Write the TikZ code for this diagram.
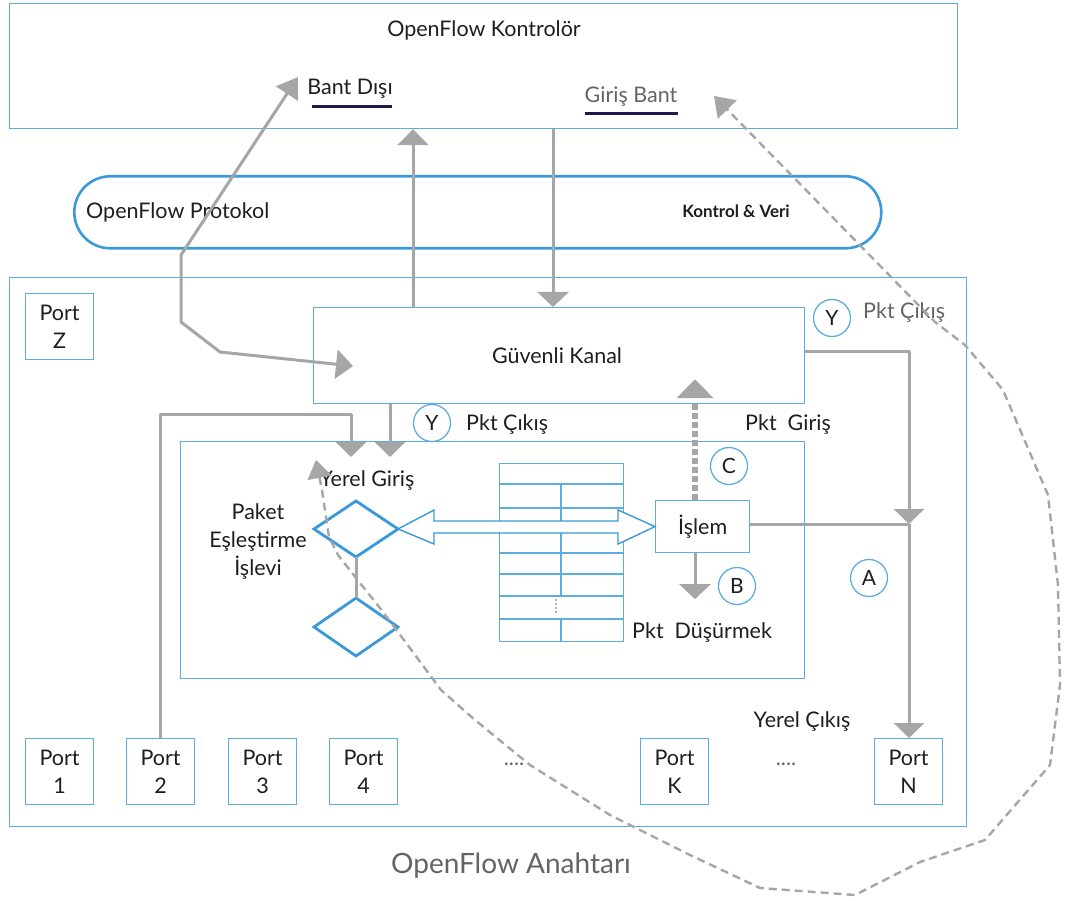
\documentclass[tikz,border=0pt]{standalone}
\usepackage{fontspec}
\setmainfont{Lato}
\usetikzlibrary{arrows.meta}
\definecolor{boxblue}{RGB}{93,173,226}
\definecolor{lineblue}{RGB}{58,154,217}
\definecolor{flowgrey}{RGB}{166,166,166}
\definecolor{inkdark}{RGB}{30,30,30}
\definecolor{inkgrey}{RGB}{100,100,100}
\definecolor{navyline}{RGB}{27,27,78}

\begin{document}
\begin{tikzpicture}[x=1pt,y=-1pt,
  font=\fontsize{21.5}{26}\selectfont, text=inkdark,
  box/.style={draw=boxblue, line width=1.2pt, inner sep=0pt, anchor=north west, align=center},
  portbox/.style={box, minimum width=68pt, minimum height=66pt, font=\fontsize{21.5}{28}\selectfont},
  badge/.style={circle, draw=boxblue, line width=1.3pt, minimum size=37pt, inner sep=0pt, font=\fontsize{21}{21}\selectfont},
  diam/.style={draw=lineblue, line width=2.8pt, line join=miter},
  flow/.style={draw=flowgrey, line width=3pt, line join=round},
  headdown/.style={-{Triangle[length=15pt,width=30pt]}},
  loopline/.style={draw=flowgrey, line width=2.4pt, dash pattern=on 8pt off 5pt, line join=round},
  lbl/.style={inner sep=0pt},
]
\useasboundingbox (0,0) rectangle (1079,901);

% ---------- controller ----------
\node[box, minimum width=948pt, minimum height=125pt] (ctrl) at (9,3) {};
\node[lbl] (ctrltitle) at (484,30) {OpenFlow Kontrolör};
\node[lbl] (oob) at (350,89) {Bant Dışı};
\draw[navyline, line width=3pt] (312,107) -- (392,107);
\node[lbl, text=inkgrey] (inb) at (631,97) {Giriş Bant};
\draw[navyline, line width=3pt] (585,114) -- (678,114);

% ---------- protocol ----------
\node[draw=lineblue, line width=2.6pt, rounded corners=36pt, minimum width=807pt,
      minimum height=72pt, anchor=north west, inner sep=0pt] (proto) at (73,175) {};
\node[lbl, anchor=west] (protoname) at (86,212) {OpenFlow Protokol};
\node[lbl, font=\fontsize{17}{20}\selectfont\bfseries] (protokind) at (736,211) {Kontrol \& Veri};

% ---------- switch ----------
\node[box, minimum width=957pt, minimum height=549pt] (sw) at (9,277) {};
\node[lbl, text=inkgrey, font=\fontsize{28}{32}\selectfont] (swname) at (511,866) {OpenFlow Anahtarı};

\node[portbox] (portZ) at (25,293) {Port\\Z};
\node[portbox] (port1) at (25,738) {Port\\1};
\node[portbox] (port2) at (126,738) {Port\\2};
\node[portbox] (port3) at (228,738) {Port\\3};
\node[portbox] (port4) at (329,738) {Port\\4};
\node[portbox] (portK) at (640,738) {Port\\K};
\node[portbox] (portN) at (874,738) {Port\\N};
\node[lbl, text=inkgrey] (dotsA) at (514,764) {....};
\node[lbl, text=inkgrey] (dotsB) at (786,764) {....};
\node[lbl] (localout) at (802,721) {Yerel Çıkış};

% secure channel
\node[box, minimum width=491pt, minimum height=96pt] (gk) at (313,307) {};
\node[lbl] (gkname) at (557,356) {Güvenli Kanal};
\node[badge] (y1) at (832,318) {Y};
\node[lbl, anchor=west, text=inkgrey] (pktout1) at (863,313) {Pkt Çıkış};
\node[badge] (y2) at (432,423) {Y};
\node[lbl, anchor=west] (pktout2) at (466,424) {Pkt Çıkış};
\node[lbl, anchor=west] (pktin) at (745,424) {Pkt\ \ Giriş};

% flow table area
\node[box, minimum width=624pt, minimum height=237pt] (inner) at (180,441) {};
\node[lbl] (localin) at (367,480) {Yerel Giriş};
\node[lbl, align=center, font=\fontsize{21.5}{28}\selectfont] (match) at (258,541) {Paket\\Eşleştirme\\İşlevi};
\node[lbl, anchor=west] (pktdrop) at (632,632) {Pkt\ \ Düşürmek};

% flow table
\node[box, minimum width=124pt, minimum height=178pt] (tbl) at (499,463) {};
\foreach \yy in {484,508,532,553,574,596,619}
  \draw[boxblue, line width=1.2pt] (tbl.west |- 0,\yy) -- (tbl.east |- 0,\yy);
\draw[boxblue, line width=1.2pt] (561,484) -- (561,596) (561,619) -- (561,641);
\foreach \yy in {600,604,608,612}
  \fill[inkgrey] (556,\yy) circle (0.8pt);

% decision diamonds
\draw[diam] (314,529) coordinate (d1w) -- (356,501) -- (398,529) coordinate (d1e) -- (356,557) coordinate (d1s) -- cycle;
\draw[diam] (314,627) -- (356,598) coordinate (d2n) -- (398,627) -- (356,656) -- cycle;
\draw[flow] (d1s) -- (d2n);

% action box
\node[box, minimum width=94pt, minimum height=52pt] (islem) at (655,500) {İşlem};

% hollow double arrow between matching and action
\draw[draw=lineblue, line width=1.4pt, fill=white, line join=miter]
  (d1e) -- (434,510) -- (434,521) -- (618,521) -- (618,510) -- (islem.west)
  -- (618,544) -- (618,533) -- (434,533) -- (434,544) -- cycle;

\node[badge] (bc) at (729,466) {C};
\node[badge] (bb) at (737,586) {B};
\node[badge] (ba) at (869,578) {A};

% ---------- solid connectors ----------
\coordinate (upx) at (413,0);
\coordinate (downx) at (553,0);
\draw[flow, -{Triangle[length=16pt,width=31pt]}] (gk.north -| upx) -- (ctrl.south -| upx);
\draw[flow, -{Triangle[length=15pt,width=31pt]}] (ctrl.south -| downx) -- (gk.north -| downx);

\coordinate (oobtip) at (298,77);
\coordinate (gkin) at (353,366);
\draw[flow, {Triangle[length=20pt,width=26pt]}-{Triangle[length=17pt,width=29pt]}]
  (oobtip) -- (181,255) -- (181,322) -- (220,352) -- (gkin);

\coordinate (lin1) at (351,457);
\coordinate (lin2) at (390,457);
\draw[flow, headdown] (port2.north) -- (port2.north |- 0,414) -- (lin1 |- 0,414) -- (lin1);
\draw[flow, headdown] (gk.south -| lin2) -- (lin2);

\coordinate (gkout) at (804,351);
\coordinate (jn) at (909,524);
\draw[flow, headdown] (gkout) -- (gkout -| jn) -- (jn);
\draw[flow] (islem.east |- jn) -- (jn);
\draw[flow, headdown] (jn) -- (jn |- portN.north);

\coordinate (actx) at (695,0);
\draw[draw=flowgrey, line width=5.5pt, dash pattern=on 6pt off 3pt, -{Triangle[length=19pt,width=36pt]}]
  (islem.north -| actx) -- (gk.south -| actx) ++(0,-25) coordinate (actup);
\draw[flow, -{Triangle[length=15pt,width=31pt]}] (islem.south -| actx) -- ++(0,46) coordinate (actdown);

% ---------- dashed loop ----------
\coordinate (looptipA) at (316,460);
\coordinate (looptipB) at (714,96);
\draw[loopline, {Triangle[length=18pt,width=24pt]}-{Triangle[length=19pt,width=26pt]}]
  (looptipA) -- (322,490) -- (329,537) -- (338,555) -- (356,578) -- (380,608) -- (398,632)
  -- (441,690) -- (475,720) -- (530,765) -- (610,815) -- (690,855) -- (760,888)
  -- (855,895) -- (920,862) -- (985,840) -- (1050,765) -- (1060,685) -- (1058,585)
  -- (1048,495) -- (1003,390) -- (965,345) -- (935,322) -- (looptipB);
\end{tikzpicture}
\end{document}
